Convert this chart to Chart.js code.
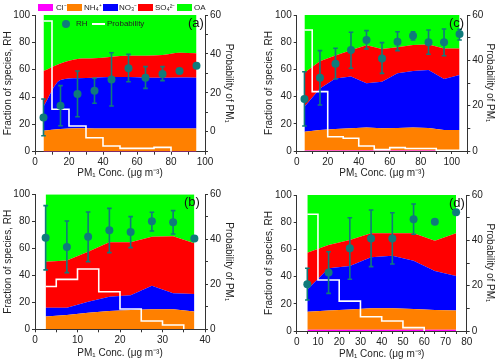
<!DOCTYPE html>
<html>
<head>
<meta charset="utf-8">
<script src="https://cdn.jsdelivr.net/npm/chart.js@4.4.1/dist/chart.umd.min.js"></script>
<style>
  body { margin: 0; width: 500px; height: 363px; background: #fff; position: relative; overflow: hidden; font-family: "Liberation Sans", Arial, sans-serif; }
  canvas { position: absolute; }
  .lab { position: absolute; font-size: 8px; line-height: 9px; color: #222; white-space: nowrap; }
  .box { position: absolute; width: 15px; height: 7px; }
  .tag { position: absolute; font-size: 13px; line-height: 13px; color: #111; }
</style>
</head>
<body>
<canvas id="chartA" width="250" height="180" style="left:0;top:0"></canvas>
<canvas id="chartC" width="250" height="180" style="left:250px;top:0"></canvas>
<canvas id="chartB" width="250" height="183" style="left:0;top:180px"></canvas>
<canvas id="chartD" width="250" height="183" style="left:250px;top:180px"></canvas>

<!-- species legend on top -->
<div class="box" style="left:38px;top:4px;background:#ff00ff"></div>
<div class="lab" style="left:56px;top:3px">Cl⁻</div>
<div class="box" style="left:67px;top:4px;background:#ff8000"></div>
<div class="lab" style="left:84px;top:3px">NH₄⁺</div>
<div class="box" style="left:103px;top:4px;background:#0000ff"></div>
<div class="lab" style="left:119px;top:3px">NO₃⁻</div>
<div class="box" style="left:138px;top:4px;background:#ff0000"></div>
<div class="lab" style="left:155px;top:3px">SO₄²⁻</div>
<div class="box" style="left:177px;top:4px;background:#00ff00"></div>
<div class="lab" style="left:194px;top:3px">OA</div>

<!-- RH / Probability legend inside (a) -->
<div style="position:absolute;left:62px;top:19.5px;width:8px;height:8px;border-radius:50%;background:#0f7b7b"></div>
<div class="lab" style="left:76px;top:19px">RH</div>
<div style="position:absolute;left:92px;top:23px;width:13px;height:2px;background:#fff"></div>
<div class="lab" style="left:107px;top:19px">Probability</div>

<div class="tag" style="left:188px;top:16px">(a)</div>
<div class="tag" style="left:449px;top:16px">(c)</div>
<div class="tag" style="left:184px;top:195px">(b)</div>
<div class="tag" style="left:449px;top:196px">(d)</div>

<script>
// Panel (a)
const xA = [5, 15, 25, 35, 45, 55, 65, 75, 85, 95];
const clA = [0.3, 0.3, 0.3, 0.3, 0.3, 0.3, 0.3, 0.3, 0.3, 0.3];
const nh4A = [15.1, 16.3, 16.8, 16.7, 16.7, 16.7, 16.7, 16.7, 16.7, 16.7];
const no3A = [17.5, 35.8, 36.6, 37.1, 37.6, 37.6, 37.1, 37.1, 37.3, 37.1];
const so4A = [26.1, 12.2, 14.1, 14.2, 14.9, 15.6, 16.1, 16.6, 18.1, 17.9];
const oaA = [41, 35.4, 32.2, 31.7, 30.5, 29.8, 29.8, 29.3, 27.6, 28];
const rhA = [25.1, 33.7, 42.2, 44.6, 52.9, 61, 54.1, 56.8, 59, 62.9];
const rhHiA = [38.5, 48.3, 59, 53.7, 72.4, 71.2, 62.2, 62.2, null, null];
const rhLoA = [11.7, 19, 25.6, 35.4, 33.4, 51.2, 46.3, 52, null, null];
const probEdgeA = [5, 10, 20, 30, 40, 50, 60, 70, 80];
const probA = [56.9, 11.5, 2.9, -3.1, -7.4, -8.6, -8.6, -8.1, -10.3];

// Panel (b)
const xB = [2.5, 7.5, 12.5, 17.5, 22.5, 27.5, 32.5, 37.5];
const clB = [0.3, 0.3, 0.3, 0.3, 0.3, 0.3, 0.3, 0.3];
const nh4B = [9.1, 10.3, 12, 13.3, 14, 14.5, 14.5, 12.8];
const no3B = [6.6, 5.4, 8.2, 10.6, 10.9, 17.5, 11.9, 13.1];
const so4B = [34.1, 34.9, 37, 40.2, 39.2, 36.3, 42.2, 37.5];
const oaB = [49.9, 49.1, 42.5, 35.6, 35.6, 31.4, 31.1, 36.3];
const rhB = [67.9, 61, 68.6, 73.3, 72.1, 80, 79.3, 67.2];
const rhHiB = [91.6, 80.2, 86.9, 89.6, 83.5, 86.7, 87.9, null];
const rhLoB = [44, 42, 50.1, 56.8, 60.5, 72.8, 70.6, null];
const probEdgeB = [2.5, 5, 10, 15, 20, 25, 30, 35];
const probB = [19, 22.2, 26.8, 16.7, 9, 3.7, 1.9, 0];

// Panel (c)
const xC = [5, 15, 25, 35, 45, 55, 65, 75, 85, 95, 105];
const clC = [0.4, 0.4, 0.4, 0.4, 0.4, 0.4, 0.4, 0.4, 0.4, 0.4, 0.4];
const nh4C = [13.8, 15, 15.8, 16.3, 16.8, 16.3, 16.6, 16.8, 16.6, 15, 15];
const no3C = [18.4, 30.6, 37.2, 38, 32.6, 34.3, 40.1, 41.6, 42.6, 37.6, 40.5];
const so4C = [24.9, 20, 16.9, 19.3, 27.9, 24, 19.2, 19.2, 18.7, 22.3, 19.4];
const oaC = [42.5, 34, 29.7, 26, 22.3, 25, 23.7, 22, 21.7, 24.7, 24.7];
const rhC = [38.2, 53.9, 64.2, 74.3, 81.6, 68.1, 80.4, 84.8, 79.9, 79.9, 86];
const rhHiC = [58.3, 73.8, 75.5, 87.3, 88.5, 79.7, 87.7, 87.7, 89, 89.7, 89.5];
const rhLoC = [18.4, 33.8, 52.9, 60.8, 75, 57.1, 73.8, 81.6, 71.1, 70, 81.6];
const probEdgeC = [5, 10, 20, 30, 40, 50, 60, 70, 80, 90, 105];
const probC = [53.4, 26.2, 6.3, 5.6, 2.2, 0.6, 1.5, 1.1, 1.1, 0.3, 0];

// Panel (d)
const xD = [5, 15, 25, 35, 45, 55, 65, 75];
const clD = [0.9, 0.9, 0.9, 0.9, 0.9, 0.9, 0.9, 0.9];
const nh4D = [13.3, 14.1, 15, 15.8, 15.8, 15.3, 14.5, 14.1];
const no3D = [16.4, 31.1, 31.9, 37.5, 38.7, 35.5, 28.7, 25.4];
const so4D = [27, 17.1, 19.1, 17.6, 16.4, 20.1, 22.3, 31.4];
const oaD = [42.4, 36.8, 33.1, 28.2, 28.2, 28.2, 33.6, 28.2];
const rhD = [34.3, 43.1, 60.8, 68.1, 68.1, 82.1, 80.4, 87.3];
const rhHiD = [46.1, 58.3, 83.3, 89, 87, 93.4, null, null];
const rhLoD = [22.8, 27.7, 38, 47.3, 49.3, 71.1, null, null];
const probEdgeD = [5, 10, 20, 30, 40, 50, 60];
const probD = [51.5, 22.5, 13.2, 6.3, 4.4, 1.5, 0];

const speciesColors = ["#ff00ff", "#ff8000", "#0000ff", "#ff0000", "#00ff00"];
const rhColor = "#0f7b7b";
const axisColor = "#333";
const textColor = "#222";

Chart.defaults.font.family = '"Liberation Sans", Arial, sans-serif';

// error bars for RH, drawn just before the RH points
const errorBars = {
    id: "errorBars",
    beforeDatasetDraw(chart, args, opts) {
        if (args.index !== 6) return;
        const { ctx, scales } = chart;
        ctx.save();
        ctx.strokeStyle = rhColor;
        ctx.lineWidth = 1.6;
        opts.x.forEach((xv, i) => {
            if (opts.hi[i] == null) return;
            const px = scales.x.getPixelForValue(xv);
            const top = scales.y.getPixelForValue(opts.hi[i]);
            const bot = scales.y.getPixelForValue(opts.lo[i]);
            ctx.beginPath();
            ctx.moveTo(px, top); ctx.lineTo(px, bot);
            ctx.moveTo(px - 2.3, top); ctx.lineTo(px + 2.3, top);
            ctx.moveTo(px - 2.3, bot); ctx.lineTo(px + 2.3, bot);
            ctx.stroke();
        });
        ctx.restore();
    },
};

function buildPanel(id, p) {
    let run = p.x.map(() => 0);
    const species = [p.cl, p.nh4, p.no3, p.so4, p.oa];
    const datasets = species.map((vals, k) => {
        run = run.map((r, i) => r + vals[i]);
        return {
            data: p.x.map((x, i) => ({ x, y: run[i] })),
            backgroundColor: speciesColors[k],
            borderWidth: 0,
            pointRadius: 0,
            fill: k === 0 ? "origin" : "-1",
            cubicInterpolationMode: p.smooth ? "monotone" : "default",
            order: 2,
        };
    });

    // probability of PM1 (step line, right axis)
    datasets.push({
        data: p.probEdge.map((x, i) => ({ x, y: p.prob[i] })),
        yAxisID: "y2",
        borderColor: "#fff",
        borderWidth: 1.6,
        pointRadius: 0,
        stepped: true,
        fill: false,
        order: 1,
    });

    // RH points
    datasets.push({
        data: p.x.map((x, i) => ({ x, y: p.rh[i] })),
        showLine: false,
        pointRadius: 4,
        pointBackgroundColor: rhColor,
        pointBorderWidth: 0,
        order: 0,
    });

    const tickFont = { size: 10 };
    const titleFont = { size: 10 };

    new Chart(document.getElementById(id), {
        type: "line",
        data: { datasets },
        plugins: [errorBars],
        options: {
            responsive: false,
            animation: false,
            devicePixelRatio: 1,
            layout: { padding: { top: p.padTop, left: 0, right: 0, bottom: 0 } },
            plugins: {
                legend: { display: false },
                tooltip: { enabled: false },
                errorBars: { x: p.x, hi: p.rhHi, lo: p.rhLo },
            },
            scales: {
                x: {
                    type: "linear",
                    min: 0,
                    max: p.xMax,
                    border: { color: axisColor },
                    grid: { drawOnChartArea: false, tickLength: 3, color: axisColor },
                    ticks: {
                        stepSize: p.xStep,
                        autoSkip: false,
                        maxRotation: 0,
                        padding: 2,
                        color: textColor,
                        font: tickFont,
                        callback: (v) => (v % p.xLabelStep === 0 ? v : ""),
                    },
                    title: {
                        display: true,
                        text: "PM₁ Conc. (μg m⁻³)",
                        color: textColor,
                        font: titleFont,
                        padding: { top: 0, bottom: p.xTitlePad },
                    },
                    afterFit: (s) => { s.height = p.xH; },
                },
                y: {
                    position: "left",
                    min: 0,
                    max: 100,
                    border: { color: axisColor },
                    grid: { drawOnChartArea: false, tickLength: 3, color: axisColor },
                    ticks: {
                        stepSize: 10,
                        padding: 2,
                        color: textColor,
                        font: tickFont,
                        callback: (v) => (v % 20 === 0 ? v : ""),
                    },
                    title: {
                        display: true,
                        text: "Fraction of species, RH",
                        color: textColor,
                        font: titleFont,
                        padding: { top: p.yTitlePad, bottom: 0 },
                    },
                    afterFit: (s) => { s.width = p.yW; },
                },
                y2: {
                    position: "right",
                    min: p.y2Min,
                    max: 60,
                    border: { color: axisColor },
                    grid: { drawOnChartArea: false, tickLength: 3, color: axisColor },
                    afterBuildTicks: (s) => {
                        s.ticks = [-10, 0, 10, 20, 30, 40, 50, 60]
                            .filter((v) => v >= s.min - 1e-9)
                            .map((v) => ({ value: v }));
                    },
                    ticks: {
                        padding: 2,
                        color: textColor,
                        font: tickFont,
                        callback: (v) => (v % 20 === 0 ? v : ""),
                    },
                    title: {
                        display: true,
                        text: "Probability of PM₁",
                        color: textColor,
                        font: titleFont,
                        padding: { top: p.y2TitlePad, bottom: 0 },
                    },
                    afterFit: (s) => { s.width = p.y2W; },
                },
            },
        },
    });
}

buildPanel("chartA", {
    x: xA, cl: clA, nh4: nh4A, no3: no3A, so4: so4A, oa: oaA,
    rh: rhA, rhHi: rhHiA, rhLo: rhLoA, probEdge: probEdgeA, prob: probA,
    smooth: true, xMax: 100, xStep: 10, xLabelStep: 20, y2Min: -10.3,
    padTop: 15, xH: 28.3, yW: 35, y2W: 45,
    xTitlePad: 1, yTitlePad: 2.7, y2TitlePad: 15.7,
});

buildPanel("chartB", {
    x: xB, cl: clB, nh4: nh4B, no3: no3B, so4: so4B, oa: oaB,
    rh: rhB, rhHi: rhHiB, rhLo: rhLoB, probEdge: probEdgeB, prob: probB,
    smooth: false, xMax: 40, xStep: 5, xLabelStep: 10, y2Min: 0,
    padTop: 14.3, xH: 33.7, yW: 35, y2W: 45,
    xTitlePad: 4, yTitlePad: 2.7, y2TitlePad: 15.7,
});

buildPanel("chartC", {
    x: xC, cl: clC, nh4: nh4C, no3: no3C, so4: so4C, oa: oaC,
    rh: rhC, rhHi: rhHiC, rhLo: rhLoC, probEdge: probEdgeC, prob: probC,
    smooth: false, xMax: 110, xStep: 10, xLabelStep: 20, y2Min: 0,
    padTop: 15, xH: 29, yW: 46.7, y2W: 32.7,
    xTitlePad: 1, yTitlePad: 13.4, y2TitlePad: 4.4,
});

buildPanel("chartD", {
    x: xD, cl: clD, nh4: nh4D, no3: no3D, so4: so4D, oa: oaD,
    rh: rhD, rhHi: rhHiD, rhLo: rhLoD, probEdge: probEdgeD, prob: probD,
    smooth: false, xMax: 80, xStep: 5, xLabelStep: 10, y2Min: 0,
    padTop: 15, xH: 32, yW: 46.7, y2W: 33.3,
    xTitlePad: 3, yTitlePad: 13.4, y2TitlePad: 4.4,
});
</script>
</body>
</html>
